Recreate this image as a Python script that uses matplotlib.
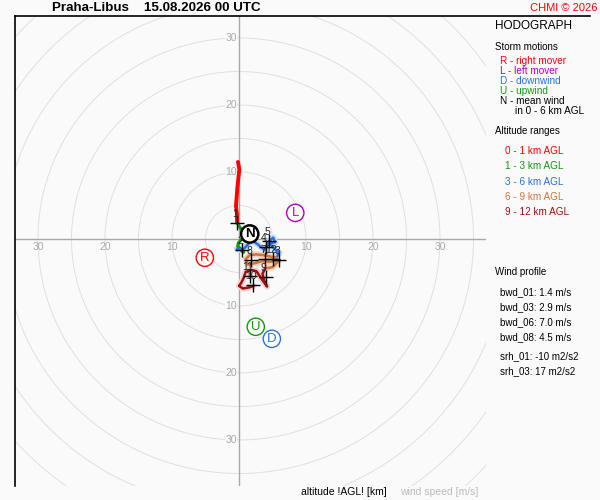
import matplotlib
matplotlib.use("Agg")
import matplotlib.pyplot as plt
import numpy as np
from matplotlib.lines import Line2D
from matplotlib.patches import Circle

plt.rcParams["font.family"] = ["Liberation Sans", "DejaVu Sans"]

# hodograph segments (u, v in m/s)
red_u = [-0.15, 0.05, -0.1, -0.25, -0.35, -0.45, -0.3, -0.3]
red_v = [11.5, 10.4, 9.0, 7.6, 6.2, 4.9, 3.7, 2.4]
green_u = [-0.3, 0.3, 0.8, 0.4, -0.1, -0.2, 0.45, 0.7, 0.2]
green_v = [2.4, 1.5, 0.8, 0.0, -0.6, -1.1, -1.6, -2.0, -1.6]
blue_u = [0.2, -0.3, 0.5, 1.9, 2.8, 3.9, 4.5, 5.1, 5.4, 4.6, 5.3, 6.0, 5.6]
blue_v = [-1.6, -1.5, -1.7, -0.2, -0.8, -1.7, -0.3, 0.2, -0.5, -0.6, -1.5, -2.0, -2.8]
orange_u = [5.6, 4.6, 3.6, 2.6, 1.6, 1.0, 1.3, 2.4, 3.4, 4.5, 5.9, 5.0, 3.9]
orange_v = [-2.8, -2.6, -2.4, -2.3, -2.4, -3.0, -3.8, -3.6, -3.3, -3.4, -3.3, -4.2, -4.4]
dred_u = [3.9, 3.5, 3.8, 4.2, 3.4, 2.6, 1.8, 1.0, 0.7, 0.3, 0.0, 0.6, 1.6, 2.2]
dred_v = [-4.4, -5.2, -6.3, -7.1, -6.0, -4.8, -4.6, -4.9, -5.8, -6.6, -7.0, -7.4, -7.2, -7.0]

# altitude marks (km)
km_labels = ["1", "2", "3", "4", "5", "7", "8", "9", "10", "11", "12"]
km_u = [-0.3, 0.45, 6.0, 4.0, 4.5, 3.9, 1.8, 4.0, 2.1, 1.6, 5.1]
km_v = [2.4, -1.6, -3.1, -1.2, -0.3, -3.0, -3.1, -5.7, -6.9, -5.5, -3.0]

# storm motions
storm_letters = ["R", "L", "D", "U", "N"]
storm_u = [-5.1, 8.4, 4.9, 2.5, 1.6]
storm_v = [-2.8, 3.9, -14.9, -13.1, 0.75]
storm_colors = ["#ff0000", "#b000c0", "#2f6fe0", "#119911", "#000000"]

layer_names = ["0 - 1 km AGL", "1 - 3 km AGL", "3 - 6 km AGL", "6 - 9 km AGL", "9 - 12 km AGL"]
layer_colors = ["#ff0000", "#119911", "#2f6fe0", "#d2733c", "#a01010"]
layer_light = [None, None, "#c6daf6", "#f4d2be", "#f3d4d4"]
layer_width = [2.8, 2.2, 1.8, 1.8, 1.8]

wind_profile = ["bwd_01: 1.4 m/s", "bwd_03: 2.9 m/s", "bwd_06: 7.0 m/s", "bwd_08: 4.5 m/s"]
helicity = ["srh_01: -10 m2/s2", "srh_03: 17 m2/s2"]

ring_step = 5
ring_max = 50
ring_labels = [10, 20, 30]

BG = "#fafafa"
W, H = 600, 500

fig = plt.figure(figsize=(6, 5), dpi=100, facecolor=BG)
ax = fig.add_axes([15 / W, 14 / H, 471 / W, 470 / H])
ax.set_facecolor(BG)
ax.set_xlim(-224 / 6.7, 247 / 6.7)
ax.set_ylim(-247 / 6.7, 223 / 6.7)
ax.set_aspect("equal", adjustable="box")
for s in ["right", "bottom", "top"]:
    ax.spines[s].set_visible(False)
ax.spines["left"].set_color("black")
ax.spines["left"].set_linewidth(1.2)
ax.set_xticks([])
ax.set_yticks([])

for r in np.arange(ring_step, ring_max + 1, ring_step):
    ax.add_patch(Circle((0, 0), r, fill=False, ec="#e0e0e0", lw=0.7, zorder=1))
ax.axhline(0, color="#a8a8a8", lw=1, zorder=2)
ax.axvline(0, color="#a8a8a8", lw=1, zorder=2)

for r in ring_labels:
    for y in (r, -r):
        ax.text(-0.3, y, str(r), ha="right", va="center", color="#aaaaaa", fontsize=7.5, zorder=2,
                bbox=dict(fc=BG, ec="none", pad=0.3))
    for x in (r, -r):
        ax.text(x, -1.2, str(r), ha="center", va="center", color="#aaaaaa", fontsize=7.5, zorder=2)

segments = [(red_u, red_v), (green_u, green_v), (blue_u, blue_v), (orange_u, orange_v), (dred_u, dred_v)]
for (u, v), light in zip(segments, layer_light):
    if light:
        ax.plot(u, v, color=light, lw=4.5, solid_capstyle="round", zorder=3)
for (u, v), col, lw in zip(segments, layer_colors, layer_width):
    ax.plot(u, v, color=col, lw=lw, solid_capstyle="round", solid_joinstyle="round", zorder=4)

ax.plot(km_u, km_v, "+", color="black", ms=10, mew=1, zorder=5)
for lab, u, v in zip(km_labels, km_u, km_v):
    ax.annotate(lab, (u, v), xytext=(-1.5, 6.5), textcoords="offset points", ha="center", va="center",
                fontsize=7.5, color="#222222", zorder=6)

for let, u, v, col in zip(storm_letters, storm_u, storm_v, storm_colors):
    bold = let == "N"
    ax.text(u, v, let, ha="center", va="center", color=col, fontsize=9.5,
            fontweight="bold" if bold else "normal", zorder=7,
            bbox=dict(boxstyle="circle,pad=0.2", fc="white", ec=col, lw=1.8 if bold else 1))

# top frame line running across to the info panel
fig.add_artist(Line2D([15 / W, 590 / W], [1 - 16 / H, 1 - 16 / H], color="black", lw=1.2,
                      transform=fig.transFigure))

fig.text(156 / W, 1 - 8 / H, "Praha-Libus    15.08.2026 00 UTC", ha="center", va="center",
         fontsize=9.6, fontweight="bold")
fig.text(597 / W, 1 - 8 / H, "CHMI © 2026", ha="right", va="center", color="#ff0000", fontsize=8)

# info panel
fig.text(495 / W, 1 - 26 / H, "HODOGRAPH", ha="left", va="center", fontsize=8.5)
fig.text(495 / W, 1 - 47 / H, "Storm motions", ha="left", va="center", fontsize=7)
storm_text = ["R - right mover", "L - left mover", "D - downwind", "U - upwind", "N - mean wind"]
for i, (t, col) in enumerate(zip(storm_text, storm_colors)):
    fig.text(500 / W, 1 - (61 + 10 * i) / H, t, ha="left", va="center", color=col, fontsize=7.2)
fig.text(515 / W, 1 - 111 / H, "in 0 - 6 km AGL", ha="left", va="center", fontsize=7.2)

fig.text(495 / W, 1 - 131 / H, "Altitude ranges", ha="left", va="center", fontsize=7)
for i, (t, col) in enumerate(zip(layer_names, layer_colors)):
    fig.text(505 / W, 1 - (151 + 15.3 * i) / H, t, ha="left", va="center", color=col, fontsize=7.2)

fig.text(495 / W, 1 - 272 / H, "Wind profile", ha="left", va="center", fontsize=7)
for i, t in enumerate(wind_profile):
    fig.text(500 / W, 1 - (292 + 15 * i) / H, t, ha="left", va="center", fontsize=7)
for i, t in enumerate(helicity):
    fig.text(500 / W, 1 - (356 + 15 * i) / H, t, ha="left", va="center", fontsize=7)

fig.text(387 / W, 1 - 492 / H, "altitude !AGL! [km]", ha="right", va="center", fontsize=7.5)
fig.text(400 / W, 1 - 492 / H, "wind speed [m/s]", ha="left", va="center", fontsize=7.5, color="#bbbbbb")

fig.savefig("out.png", dpi=100, facecolor=BG)
